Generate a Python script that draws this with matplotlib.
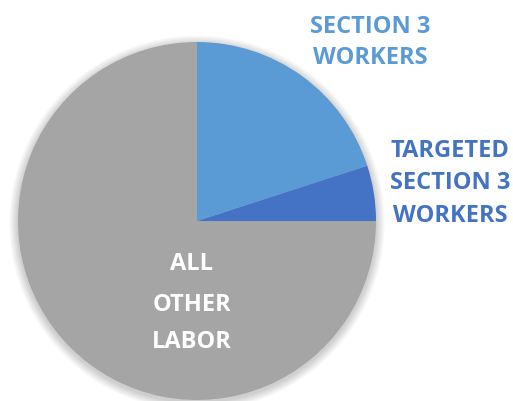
import matplotlib
matplotlib.use("Agg")
import matplotlib.pyplot as plt
from matplotlib.patches import Circle

categories = ["SECTION 3\nWORKERS", "TARGETED\nSECTION 3\nWORKERS", "ALL\nOTHER\nLABOR"]
values = [20, 5, 75]
colors = ["#5B9BD5", "#4472C4", "#A5A5A5"]

W, H = 513, 401
fig = plt.figure(figsize=(W / 100, H / 100), dpi=100)
cx, cy, r = 197, 221, 179
ax = fig.add_axes([(cx - r) / W, (H - cy - r) / H, 2 * r / W, 2 * r / H])
ax.set_xlim(-1, 1)
ax.set_ylim(-1, 1)
ax.set_aspect("equal")
ax.axis("off")

# soft shadow
for i in range(8):
    ax.add_patch(Circle((0.0, -0.012), 1.0 + 0.006 * (i + 1), color="black",
                        alpha=0.025, lw=0, zorder=0, clip_on=False))

ax.pie(values, colors=colors, startangle=90, counterclock=False, radius=1,
       wedgeprops=dict(linewidth=0), center=(0, 0), frame=False)
ax.set_xlim(-1, 1)
ax.set_ylim(-1, 1)

font = dict(family=["Open Sans", "DejaVu Sans"], fontweight="bold", fontsize=17)

def line(x, ybase, s, color):
    fig.text(x / W, 1 - ybase / H, s, ha="center", va="baseline", color=color, **font)

lab0 = categories[0].split("\n")
lab1 = categories[1].split("\n")
lab2 = categories[2].split("\n")
for s, yb in zip(lab0, [33, 64]):
    line(370, yb, s, colors[0])
for s, yb in zip(lab1, [157, 189, 222]):
    line(450, yb, s, colors[1])
for s, yb in zip(lab2, [270, 311, 348]):
    line(192, yb, s, "white")

fig.savefig("out.png", dpi=100)
